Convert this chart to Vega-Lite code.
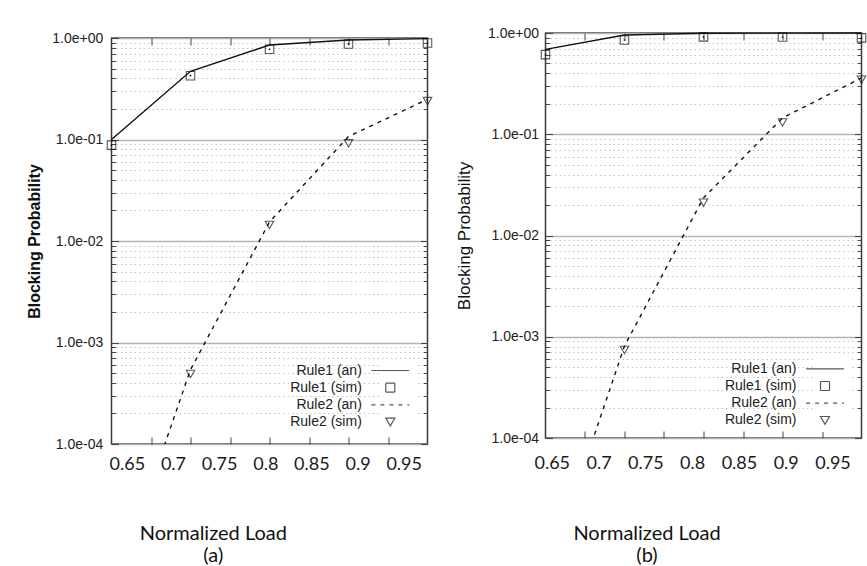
{
  "$schema": "https://vega.github.io/schema/vega-lite/v6.json",
  "background": "white",
  "padding": {"left": 25.5, "top": 25, "right": 0, "bottom": 0},
  "spacing": 19,
  "config": {
    "view": {"stroke": "#3a3a3a", "strokeWidth": 1.5},
    "axis": {"domain": false, "grid": false, "ticks": false, "labelFont": "Liberation Sans", "titleFont": "Liberation Sans"}
  },
  "resolve": {
    "scale": {"shape": "independent", "strokeDash": "independent"},
    "legend": {"shape": "independent", "strokeDash": "independent"}
  },
  "datasets": {
    "a": [
      {"x": 0.6334, "y": 0.1, "series": "Rule1 (an)"},
      {"x": 0.719, "y": 0.47, "series": "Rule1 (an)"},
      {"x": 0.8046, "y": 0.853, "series": "Rule1 (an)"},
      {"x": 0.8902, "y": 0.956, "series": "Rule1 (an)"},
      {"x": 0.9758, "y": 0.985, "series": "Rule1 (an)"},
      {"x": 0.6334, "y": 0.088, "series": "Rule1 (sim)"},
      {"x": 0.719, "y": 0.425, "series": "Rule1 (sim)"},
      {"x": 0.8046, "y": 0.774, "series": "Rule1 (sim)"},
      {"x": 0.8902, "y": 0.873, "series": "Rule1 (sim)"},
      {"x": 0.9758, "y": 0.893, "series": "Rule1 (sim)"},
      {"x": 0.6334, "y": 0.000003, "series": "Rule2 (an)"},
      {"x": 0.719, "y": 0.00054, "series": "Rule2 (an)"},
      {"x": 0.8046, "y": 0.0154, "series": "Rule2 (an)"},
      {"x": 0.8902, "y": 0.107, "series": "Rule2 (an)"},
      {"x": 0.9758, "y": 0.249, "series": "Rule2 (an)"},
      {"x": 0.719, "y": 0.00049, "series": "Rule2 (sim)"},
      {"x": 0.8046, "y": 0.0144, "series": "Rule2 (sim)"},
      {"x": 0.8902, "y": 0.0918, "series": "Rule2 (sim)"},
      {"x": 0.9758, "y": 0.239, "series": "Rule2 (sim)"}
    ],
    "b": [
      {"x": 0.6433, "y": 0.69, "series": "Rule1 (an)"},
      {"x": 0.7277, "y": 0.955, "series": "Rule1 (an)"},
      {"x": 0.8121, "y": 0.995, "series": "Rule1 (an)"},
      {"x": 0.8966, "y": 0.998, "series": "Rule1 (an)"},
      {"x": 0.981, "y": 1.0, "series": "Rule1 (an)"},
      {"x": 0.6433, "y": 0.611, "series": "Rule1 (sim)"},
      {"x": 0.7277, "y": 0.853, "series": "Rule1 (sim)"},
      {"x": 0.8121, "y": 0.915, "series": "Rule1 (sim)"},
      {"x": 0.8966, "y": 0.913, "series": "Rule1 (sim)"},
      {"x": 0.981, "y": 0.895, "series": "Rule1 (sim)"},
      {"x": 0.6433, "y": 0.000004, "series": "Rule2 (an)"},
      {"x": 0.7277, "y": 0.00081, "series": "Rule2 (an)"},
      {"x": 0.8121, "y": 0.0235, "series": "Rule2 (an)"},
      {"x": 0.8966, "y": 0.145, "series": "Rule2 (an)"},
      {"x": 0.981, "y": 0.36, "series": "Rule2 (an)"},
      {"x": 0.7277, "y": 0.00074, "series": "Rule2 (sim)"},
      {"x": 0.8121, "y": 0.0211, "series": "Rule2 (sim)"},
      {"x": 0.8966, "y": 0.131, "series": "Rule2 (sim)"},
      {"x": 0.981, "y": 0.346, "series": "Rule2 (sim)"}
    ]
  },
  "hconcat": [
    {
      "spacing": 4,
      "bounds": "flush",
      "vconcat": [
        {"width": 316, "height": 1, "data": {"values": []}, "mark": "point", "view": {"stroke": null}},
        {
          "width": 316,
          "height": 406,
          "data": {"name": "a"},
          "resolve": {"axis": {"x": "independent", "y": "independent"}},
          "layer": [
            {
              "transform": [{"filter": "datum.series === 'Rule1 (an)'"}],
              "mark": {"type": "line", "color": "#111", "strokeWidth": 1.4},
              "encoding": {
                "x": {
                  "field": "x", "type": "quantitative",
                  "scale": {"domain": [0.6334, 0.9758], "nice": false, "zero": false},
                  "axis": {
                    "orient": "bottom", "values": [0.65, 0.7, 0.75, 0.8, 0.85, 0.9, 0.95],
                    "labelExpr": "format(datum.value, '.2~f')",
                    "labelFont": "Lato", "labelFontSize": 18, "labelColor": "#1a1a1a",
                    "labelPadding": 11.7, "labelFlush": false, "labelOverlap": false,
                    "ticks": false, "domain": false, "grid": false,
                    "title": ["Normalized Load", "(a)"],
                    "titleFont": "Lato", "titleFontSize": 20, "titleFontWeight": "normal", "titleColor": "#111",
                    "titleLineHeight": 22, "titleX": 101.3, "titleY": 95, "titleAlign": "center",
                    "titleBaseline": "alphabetic", "titleAngle": 0
                  }
                },
                "y": {
                  "field": "y", "type": "quantitative",
                  "scale": {"type": "log", "domain": [0.0001, 1], "nice": false},
                  "axis": {
                    "orient": "left",
                    "values": [0.0001,0.0002,0.0003,0.0004,0.0005,0.0006,0.0007,0.0008,0.0009,0.001,0.002,0.003,0.004,0.005,0.006,0.007,0.008,0.009,0.01,0.02,0.03,0.04,0.05,0.06,0.07,0.08,0.09,0.1,0.2,0.3,0.4,0.5,0.6,0.7,0.8,0.9,1],
                    "labelExpr": "abs(log(datum.value)/LN10 - round(log(datum.value)/LN10)) < 0.001 ? (datum.value >= 0.999 ? '1.0e+00' : '1.0e-0' + toString(-round(log(datum.value)/LN10))) : ''",
                    "labelFont": "Liberation Sans", "labelFontSize": 14, "labelColor": "#222",
                    "labelPadding": 8.7, "labelOverlap": false, "labelFlush": false, "labelBound": false,
                    "ticks": false, "domain": false, "grid": true,
                    "gridColor": {"condition": {"test": "abs(log(datum.value)/LN10 - round(log(datum.value)/LN10)) < 0.001", "value": "#b4b4b4"}, "value": "#c4c4c4"},
                    "gridWidth": {"condition": {"test": "abs(log(datum.value)/LN10 - round(log(datum.value)/LN10)) < 0.001", "value": 1.6}, "value": 1},
                    "gridDash": {"condition": {"test": "abs(log(datum.value)/LN10 - round(log(datum.value)/LN10)) < 0.001", "value": [1, 0]}, "value": [1.5, 3]},
                    "title": "Blocking Probability", "titleFont": "Liberation Sans", "titleFontSize": 16,
                    "titleFontWeight": "bold", "titleColor": "#111", "titleX": -76.7, "titleY": 203,
                    "titleAngle": -90, "titleAlign": "center", "titleBaseline": "middle"
                  }
                }
              }
            },
            {
              "transform": [{"filter": "datum.series === 'Rule2 (an)'"}],
              "mark": {"type": "line", "color": "#111", "strokeWidth": 1.4, "strokeDash": [4, 5], "clip": true},
              "encoding": {
                "x": {
                  "field": "x", "type": "quantitative",
                  "scale": {"domain": [0.6334, 0.9758], "nice": false, "zero": false},
                  "axis": {"orient": "bottom", "values": [0.6762, 0.719, 0.7618, 0.8046, 0.8474, 0.8902, 0.933], "labels": false, "ticks": true, "tickSize": -7, "tickColor": "#444", "tickWidth": 1, "domain": false, "grid": false, "title": null}
                },
                "y": {
                  "field": "y", "type": "quantitative",
                  "scale": {"type": "log", "domain": [0.0001, 1], "nice": false},
                  "axis": {
                    "orient": "right",
                    "values": [0.0001,0.0002,0.0003,0.0004,0.0005,0.0006,0.0007,0.0008,0.0009,0.001,0.002,0.003,0.004,0.005,0.006,0.007,0.008,0.009,0.01,0.02,0.03,0.04,0.05,0.06,0.07,0.08,0.09,0.1,0.2,0.3,0.4,0.5,0.6,0.7,0.8,0.9,1],
                    "labels": false, "ticks": true,
                    "tickSize": {"condition": {"test": "abs(log(datum.value)/LN10 - round(log(datum.value)/LN10)) < 0.001", "value": -7}, "value": -4},
                    "tickColor": "#444", "tickWidth": 1, "domain": false, "grid": false, "title": null
                  }
                }
              }
            },
            {
              "transform": [{"filter": "indexof(datum.series, 'sim') >= 0"}],
              "mark": {"type": "point", "filled": false, "color": "#111", "strokeWidth": 1.1, "size": 72},
              "encoding": {
                "x": {
                  "field": "x", "type": "quantitative",
                  "scale": {"domain": [0.6334, 0.9758], "nice": false, "zero": false},
                  "axis": {"orient": "top", "values": [0.6762, 0.719, 0.7618, 0.8046, 0.8474, 0.8902, 0.933], "labels": false, "ticks": true, "tickSize": -7, "tickColor": "#444", "tickWidth": 1, "domain": false, "grid": false, "title": null}
                },
                "y": {
                  "field": "y", "type": "quantitative",
                  "scale": {"type": "log", "domain": [0.0001, 1], "nice": false},
                  "axis": {
                    "orient": "left",
                    "values": [0.0001,0.0002,0.0003,0.0004,0.0005,0.0006,0.0007,0.0008,0.0009,0.001,0.002,0.003,0.004,0.005,0.006,0.007,0.008,0.009,0.01,0.02,0.03,0.04,0.05,0.06,0.07,0.08,0.09,0.1,0.2,0.3,0.4,0.5,0.6,0.7,0.8,0.9,1],
                    "labels": false, "ticks": true,
                    "tickSize": {"condition": {"test": "abs(log(datum.value)/LN10 - round(log(datum.value)/LN10)) < 0.001", "value": -7}, "value": -4},
                    "tickColor": "#444", "tickWidth": 1, "domain": false, "grid": false, "title": null
                  }
                },
                "shape": {
                  "field": "series", "type": "nominal",
                  "scale": {"domain": ["Rule1 (an)", "Rule1 (sim)", "Rule2 (an)", "Rule2 (sim)"], "range": ["M-4.2,0H4.2", "square", "M-4.2,0H4.2", "triangle-down"]},
                  "legend": {"orient": "none", "legendX": 267.8, "legendY": 326.5, "title": null, "padding": 4, "fillColor": "white", "labelAlign": "right", "labelOffset": -35.5, "rowPadding": 3.2, "labelFont": "Liberation Sans", "labelFontSize": 14, "labelColor": "#222", "symbolStrokeColor": "#111", "symbolStrokeWidth": 1.2, "symbolSize": 81}
                },
                "strokeDash": {
                  "field": "series", "type": "nominal",
                  "scale": {"domain": ["Rule1 (an)", "Rule1 (sim)", "Rule2 (an)", "Rule2 (sim)"], "range": [[1, 0], [1, 0], [4, 5], [1, 0]]},
                  "legend": {"orient": "none", "legendX": 267.8, "legendY": 326.5, "title": null, "padding": 4, "fillColor": "white", "labelAlign": "right", "labelOffset": -35.5, "rowPadding": 3.2, "labelFont": "Liberation Sans", "labelFontSize": 14, "labelColor": "#222", "symbolStrokeColor": "#111", "symbolStrokeWidth": 1.2, "symbolSize": 81}
                }
              }
            },
            {
              "transform": [{"filter": "datum.series === 'Rule1 (sim)'"}],
              "mark": {"type": "circle", "size": 3, "color": "#111", "opacity": 1},
              "encoding": {
                "x": {"field": "x", "type": "quantitative", "scale": {"domain": [0.6334, 0.9758], "nice": false, "zero": false}, "axis": null},
                "y": {"field": "y", "type": "quantitative", "scale": {"type": "log", "domain": [0.0001, 1], "nice": false}, "axis": null}
              }
            }
          ]
        }
      ]
    },
    {
      "width": 316,
      "height": 405,
      "data": {"name": "b"},
      "resolve": {"axis": {"x": "independent", "y": "independent"}},
      "layer": [
        {
          "transform": [{"filter": "datum.series === 'Rule1 (an)'"}],
          "mark": {"type": "line", "color": "#111", "strokeWidth": 1.4},
          "encoding": {
            "x": {
              "field": "x", "type": "quantitative",
              "scale": {"domain": [0.6433, 0.981], "nice": false, "zero": false},
              "axis": {
                "orient": "bottom", "values": [0.65, 0.7, 0.75, 0.8, 0.85, 0.9, 0.95],
                "labelExpr": "format(datum.value, '.2~f')",
                "labelFont": "Lato", "labelFontSize": 18, "labelColor": "#1a1a1a",
                "labelPadding": 16, "labelFlush": false, "labelOverlap": false,
                "ticks": false, "domain": false, "grid": false,
                "title": ["Normalized Load", "(b)"],
                "titleFont": "Lato", "titleFontSize": 20, "titleFontWeight": "normal", "titleColor": "#111",
                "titleLineHeight": 22, "titleX": 101, "titleY": 101, "titleAlign": "center",
                "titleBaseline": "alphabetic", "titleAngle": 0
              }
            },
            "y": {
              "field": "y", "type": "quantitative",
              "scale": {"type": "log", "domain": [0.0001, 1], "nice": false},
              "axis": {
                "orient": "left",
                "values": [0.0001,0.0002,0.0003,0.0004,0.0005,0.0006,0.0007,0.0008,0.0009,0.001,0.002,0.003,0.004,0.005,0.006,0.007,0.008,0.009,0.01,0.02,0.03,0.04,0.05,0.06,0.07,0.08,0.09,0.1,0.2,0.3,0.4,0.5,0.6,0.7,0.8,0.9,1],
                "labelExpr": "abs(log(datum.value)/LN10 - round(log(datum.value)/LN10)) < 0.001 ? (datum.value >= 0.999 ? '1.0e+00' : '1.0e-0' + toString(-round(log(datum.value)/LN10))) : ''",
                "labelFont": "Liberation Sans", "labelFontSize": 14, "labelColor": "#222",
                "labelPadding": 7, "labelOverlap": false, "labelFlush": false, "labelBound": false,
                "ticks": false, "domain": false, "grid": true,
                "gridColor": {"condition": {"test": "abs(log(datum.value)/LN10 - round(log(datum.value)/LN10)) < 0.001", "value": "#b4b4b4"}, "value": "#c4c4c4"},
                "gridWidth": {"condition": {"test": "abs(log(datum.value)/LN10 - round(log(datum.value)/LN10)) < 0.001", "value": 1.6}, "value": 1},
                "gridDash": {"condition": {"test": "abs(log(datum.value)/LN10 - round(log(datum.value)/LN10)) < 0.001", "value": [1, 0]}, "value": [1.5, 3]},
                "title": "Blocking Probability", "titleFont": "Liberation Sans", "titleFontSize": 17,
                "titleFontWeight": "normal", "titleColor": "#111", "titleX": -81, "titleY": 202.5,
                "titleAngle": -90, "titleAlign": "center", "titleBaseline": "middle"
              }
            }
          }
        },
        {
          "transform": [{"filter": "datum.series === 'Rule2 (an)'"}],
          "mark": {"type": "line", "color": "#111", "strokeWidth": 1.4, "strokeDash": [4, 5], "clip": true},
          "encoding": {
            "x": {
              "field": "x", "type": "quantitative",
              "scale": {"domain": [0.6433, 0.981], "nice": false, "zero": false},
              "axis": {"orient": "bottom", "values": [0.6855, 0.7277, 0.7699, 0.8121, 0.8544, 0.8966, 0.9388], "labels": false, "ticks": true, "tickSize": -7, "tickColor": "#444", "tickWidth": 1, "domain": false, "grid": false, "title": null}
            },
            "y": {
              "field": "y", "type": "quantitative",
              "scale": {"type": "log", "domain": [0.0001, 1], "nice": false},
              "axis": {
                "orient": "right",
                "values": [0.0001,0.0002,0.0003,0.0004,0.0005,0.0006,0.0007,0.0008,0.0009,0.001,0.002,0.003,0.004,0.005,0.006,0.007,0.008,0.009,0.01,0.02,0.03,0.04,0.05,0.06,0.07,0.08,0.09,0.1,0.2,0.3,0.4,0.5,0.6,0.7,0.8,0.9,1],
                "labels": false, "ticks": true,
                "tickSize": {"condition": {"test": "abs(log(datum.value)/LN10 - round(log(datum.value)/LN10)) < 0.001", "value": -7}, "value": -4},
                "tickColor": "#444", "tickWidth": 1, "domain": false, "grid": false, "title": null
              }
            }
          }
        },
        {
          "transform": [{"filter": "indexof(datum.series, 'sim') >= 0"}],
          "mark": {"type": "point", "filled": false, "color": "#111", "strokeWidth": 1.1, "size": 72},
          "encoding": {
            "x": {
              "field": "x", "type": "quantitative",
              "scale": {"domain": [0.6433, 0.981], "nice": false, "zero": false},
              "axis": {"orient": "top", "values": [0.6855, 0.7277, 0.7699, 0.8121, 0.8544, 0.8966, 0.9388], "labels": false, "ticks": true, "tickSize": -7, "tickColor": "#444", "tickWidth": 1, "domain": false, "grid": false, "title": null}
            },
            "y": {
              "field": "y", "type": "quantitative",
              "scale": {"type": "log", "domain": [0.0001, 1], "nice": false},
              "axis": {
                "orient": "left",
                "values": [0.0001,0.0002,0.0003,0.0004,0.0005,0.0006,0.0007,0.0008,0.0009,0.001,0.002,0.003,0.004,0.005,0.006,0.007,0.008,0.009,0.01,0.02,0.03,0.04,0.05,0.06,0.07,0.08,0.09,0.1,0.2,0.3,0.4,0.5,0.6,0.7,0.8,0.9,1],
                "labels": false, "ticks": true,
                "tickSize": {"condition": {"test": "abs(log(datum.value)/LN10 - round(log(datum.value)/LN10)) < 0.001", "value": -7}, "value": -4},
                "tickColor": "#444", "tickWidth": 1, "domain": false, "grid": false, "title": null
              }
            },
            "shape": {
              "field": "series", "type": "nominal",
              "scale": {"domain": ["Rule1 (an)", "Rule1 (sim)", "Rule2 (an)", "Rule2 (sim)"], "range": ["M-4.2,0H4.2", "square", "M-4.2,0H4.2", "triangle-down"]},
              "legend": {"orient": "none", "legendX": 268.5, "legendY": 324.8, "title": null, "padding": 4, "fillColor": "white", "labelAlign": "right", "labelOffset": -35.5, "rowPadding": 3.2, "labelFont": "Liberation Sans", "labelFontSize": 14, "labelColor": "#222", "symbolStrokeColor": "#111", "symbolStrokeWidth": 1.2, "symbolSize": 81}
            },
            "strokeDash": {
              "field": "series", "type": "nominal",
              "scale": {"domain": ["Rule1 (an)", "Rule1 (sim)", "Rule2 (an)", "Rule2 (sim)"], "range": [[1, 0], [1, 0], [4, 5], [1, 0]]},
              "legend": {"orient": "none", "legendX": 268.5, "legendY": 324.8, "title": null, "padding": 4, "fillColor": "white", "labelAlign": "right", "labelOffset": -35.5, "rowPadding": 3.2, "labelFont": "Liberation Sans", "labelFontSize": 14, "labelColor": "#222", "symbolStrokeColor": "#111", "symbolStrokeWidth": 1.2, "symbolSize": 81}
            }
          }
        },
        {
          "transform": [{"filter": "datum.series === 'Rule1 (sim)'"}],
          "mark": {"type": "circle", "size": 3, "color": "#111", "opacity": 1},
          "encoding": {
            "x": {"field": "x", "type": "quantitative", "scale": {"domain": [0.6433, 0.981], "nice": false, "zero": false}, "axis": null},
            "y": {"field": "y", "type": "quantitative", "scale": {"type": "log", "domain": [0.0001, 1], "nice": false}, "axis": null}
          }
        }
      ]
    }
  ]
}
